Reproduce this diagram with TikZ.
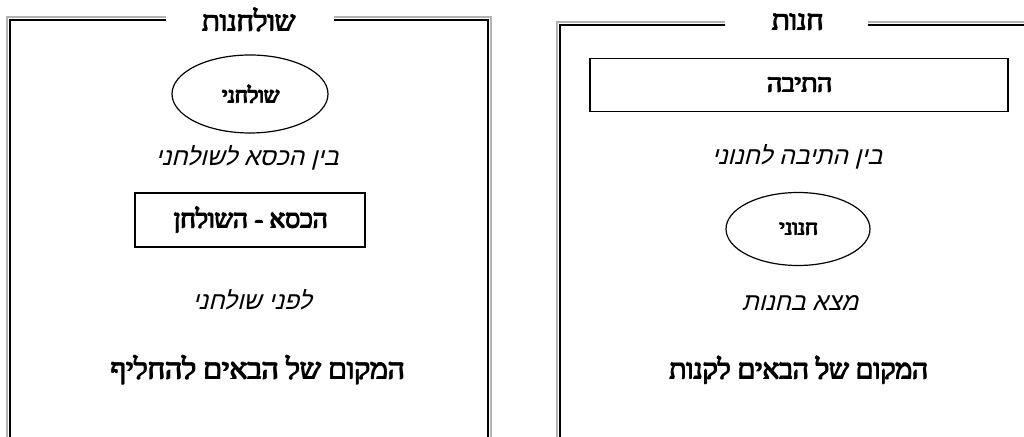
\documentclass[tikz,border=0pt]{standalone}
\usepackage{fontspec}
\usetikzlibrary{shapes.geometric}
\newfontfamily\hebfont[Script=Hebrew]{Liberation Serif}
\newfontfamily\hebcursive[Script=Hebrew,FakeSlant=0.25]{Liberation Sans}
\TeXXeTstate=1
% right-to-left text; the bold labels are printed several times, shifted a little
\newcommand\hebtext[1]{\beginR #1\endR}
\newcommand\hebbold[1]{\leavevmode\rlap{\hspace{0.8pt}\hebtext{#1}}\rlap{\hspace{0.4pt}\raisebox{0.3pt}{\hebtext{#1}}}\rlap{\hspace{0.4pt}\hebtext{#1}}\hebtext{#1}}

\tikzset{
	framethin/.style={draw=gray!60, line width=0.6pt},
	framethick/.style={draw=black, line width=1.4pt},
	paneltitle/.style={font=\hebfont\fontsize{14.5}{17}\selectfont},
	boldtext/.style={font=\hebfont\fontsize{14}{16}\selectfont},
	cursivetext/.style={font=\hebcursive\fontsize{12.3}{15}\selectfont},
	oval/.style={draw, ellipse, line width=0.6pt, font=\hebfont\fontsize{11}{12}\selectfont},
	boxed/.style={draw, line width=0.8pt, font=\hebfont\fontsize{13}{15}\selectfont}
}

\begin{document}
\begin{tikzpicture}[x=0.5pt, y=-0.5pt]
	\useasboundingbox (0,0) rectangle (1024,437);
	
	% left panel frame
	\draw [framethin] (166,17) -- (7,17) -- (7,437);
	\draw [framethin] (334,17) -- (491,17) -- (491,437);
	\draw [framethick] (166,20) -- (10,20) -- (10,437);
	\draw [framethick] (334,20) -- (488,20) -- (488,437);
	\node [paneltitle] (shulchanot) at (248,20) {\hebbold{שולחנות}};
	
	% right panel frame
	\draw [framethin] (725,22) -- (557,22) -- (557,437);
	\draw [framethin] (868,22) -- (1024,22);
	\draw [framethick] (725,25) -- (560,25) -- (560,437);
	\draw [framethick] (868,25) -- (1024,25);
	\node [paneltitle] (chanut) at (797,22) {\hebbold{חנות}};
	
	% left panel
	\node [oval, minimum width=78pt, minimum height=39pt] (shulchani) at (250,94) {\hebbold{שולחני}};
	\node [cursivetext] (bein-kise) at (247,158) {\hebtext{בין הכסא לשולחני}};
	\node [boxed, minimum width=115pt, minimum height=27pt] (kise) at (250,220) {\hebbold{הכסא - השולחן}};
	\node [cursivetext] (lifnei) at (252,300) {\hebtext{לפני שולחני}};
	\node [boldtext, font=\hebfont\fontsize{14.8}{16}\selectfont] (lehachlif) at (257,370) {\hebbold{המקום של הבאים להחליף}};
	
	% right panel
	\node [boxed, minimum width=209pt, minimum height=26.5pt] (teiva) at (799,85) {\hebbold{התיבה}};
	\node [cursivetext] (bein-teiva) at (797,157) {\hebtext{בין התיבה לחנוני}};
	\node [oval, minimum width=72pt, minimum height=36.5pt] (chenvani) at (798,229) {\hebbold{חנוני}};
	\node [cursivetext] (matza) at (800,303) {\hebtext{מצא בחנות}};
	\node [boldtext] (liknot) at (798,370) {\hebbold{המקום של הבאים לקנות}};
\end{tikzpicture}
\end{document}
